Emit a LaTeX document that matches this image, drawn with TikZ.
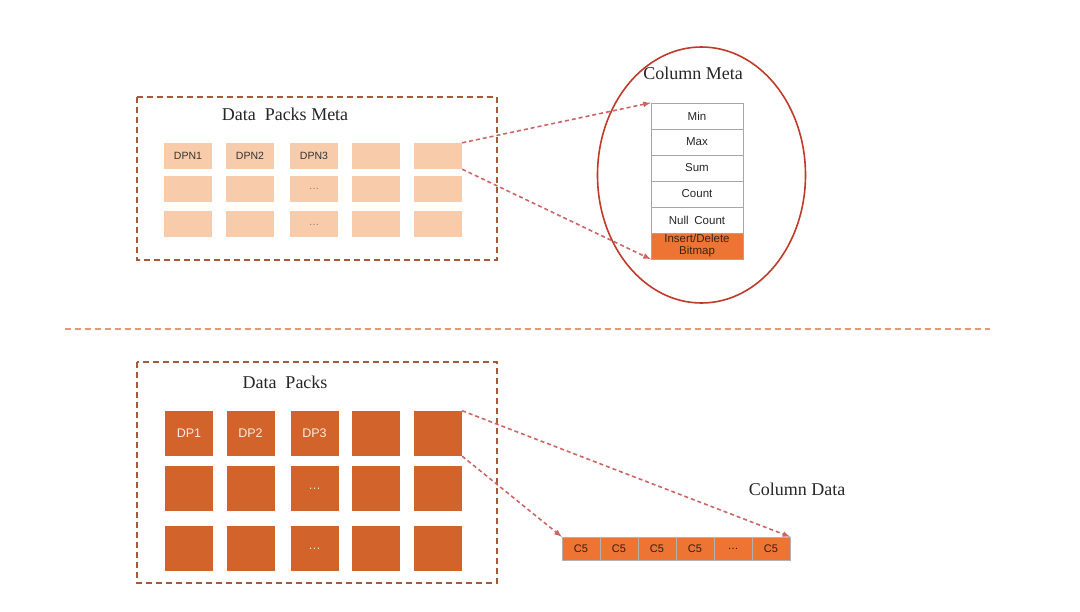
\documentclass[tikz,border=0pt]{standalone}
\usepackage{fontspec}
\setmainfont{Liberation Serif}
\setsansfont{Liberation Sans}
\usetikzlibrary{arrows}

\definecolor{peach}{HTML}{F8CBAA}
\definecolor{rust}{HTML}{D2632A}
\definecolor{tangerine}{HTML}{EE7433}
\definecolor{boxline}{HTML}{A65A3C}
\definecolor{linkline}{HTML}{CC6666}
\definecolor{ringred}{HTML}{C0392B}
\definecolor{sepline}{HTML}{E39A74}

\begin{document}
\begin{tikzpicture}
  [
    x=1pt, y=-1pt,
    title/.style={font=\fontsize{18}{20}\selectfont, text=black!85},
    frame/.style={draw=boxline, line width=1.4pt, dash pattern=on 6pt off 4pt},
    metacell/.style={fill=peach, minimum width=48pt, minimum height=26pt, inner sep=0pt,
      font=\sffamily\fontsize{10.5}{12}\selectfont, text=black!80},
    packcell/.style={fill=rust, minimum width=48pt, minimum height=45pt, inner sep=0pt,
      font=\sffamily\fontsize{12.5}{14}\selectfont, text=white!85!orange},
    field/.style={draw=black!35, fill=white, minimum width=92pt, minimum height=26pt, inner sep=0pt,
      font=\sffamily\fontsize{11.5}{12}\selectfont, text=black!85},
    datacell/.style={draw=black!30, fill=tangerine, minimum width=38pt, minimum height=23pt, inner sep=0pt,
      font=\sffamily\fontsize{11}{12}\selectfont, text=black!75!brown},
    link/.style={draw=linkline, line width=1.6pt, dash pattern=on 4pt off 3pt, -latex}
  ]
  \useasboundingbox (0,0) rectangle (1080,612);
  % data packs meta
  \draw [frame] (137,97) rectangle (497,260);
  \node [title] (metatitle) at (285,114) {Data\enspace Packs Meta};
  \foreach \c/\x/\t in {1/188/DPN1,2/250/DPN2,3/314/DPN3,4/376/{},5/438/{}} {
      \node [metacell] (m1\c) at (\x,156) {\t};
  }
  \foreach \r/\y in {2/189,3/224.5} {
      \foreach \c/\x in {1/188,2/250,3/314,4/376,5/438} {
          \node [metacell] (m\r\c) at (\x,\y) {\ifnum\c=3 \textcolor{black!50}{\dots}\fi};
      }
  }
  % column meta
  \draw [ringred, line width=1.6pt] (701.5,175) ellipse [x radius=104, y radius=128];
  \node [title] (metahead) at (693,73) {Column Meta};
  \foreach \n/\y/\t in {min/116/Min,max/142/Max,sum/168/Sum,count/194/Count,null/220/Null\enspace Count} {
      \node [field] (\n) at (697,\y) {\t};
  }
  \node [field, fill=tangerine, text=black!70!brown, align=center,
    font=\sffamily\fontsize{11.5}{12}\selectfont] (bitmap) at (697,246) {Insert/Delete\\Bitmap};
  % edges meta - column meta
  \draw [link] (m15.north east) -- (min.north west);
  \draw [link] (m15.south east) -- (bitmap.south west);
  % separator
  \draw [sepline, line width=1.3pt, dash pattern=on 6pt off 4pt] (65,329) -- (990,329);
  % data packs
  \draw [frame] (137,362) rectangle (497,583);
  \node [title] (packtitle) at (285,382) {Data\enspace Packs};
  \foreach \c/\x/\t in {1/189/DP1,2/250.5/DP2,3/314.5/DP3,4/376/{},5/438/{}} {
      \node [packcell] (d1\c) at (\x,433.5) {\t};
  }
  \foreach \r/\y in {2/488.5,3/548.5} {
      \foreach \c/\x in {1/189,2/250.5,3/314.5,4/376,5/438} {
          \node [packcell] (d\r\c) at (\x,\y) {\ifnum\c=3 \dots\fi};
      }
  }
  % column data
  \node [title] (datahead) at (797,489) {Column Data};
  \foreach \i/\x/\t in {1/581/C5,2/619/C5,3/657/C5,4/695/C5,5/733/\dots,6/771/C5} {
      \node [datacell] (c\i) at (\x,548.5) {\t};
  }
  % edges packs - column data
  \draw [link] (d15.north east) -- (c6.north east);
  \draw [link] (d15.south east) -- (c1.north west);
\end{tikzpicture}
\end{document}
